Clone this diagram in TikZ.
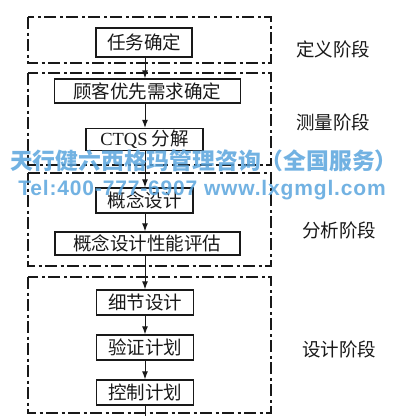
\documentclass[tikz,border=0pt]{standalone}
\usepackage{fontspec}
\setmainfont{Liberation Serif}
\newfontfamily\cjk{Noto Sans CJK SC}
\newfontfamily\wmsans[LetterSpace=4]{Liberation Sans}
\usetikzlibrary{arrows.meta}
\definecolor{wmblue}{RGB}{90,165,222}
\definecolor{ink}{RGB}{25,25,25}
\begin{document}
\begin{tikzpicture}[x=1pt,y=-1pt,
  box/.style={draw=ink, line width=1.4pt, inner sep=0pt, text=ink,
    font=\fontsize{18.5}{20}\selectfont\cjk},
  frame/.style={draw=ink, line width=1.2pt, dash pattern=on 12pt off 3.5pt on 3pt off 3.5pt},
  arr/.style={draw=ink, line width=1pt, -{Latex[length=8pt,width=6pt]}},
  lab/.style={text=ink, inner sep=0pt, font=\fontsize{18.5}{20}\selectfont\cjk},
  wm/.style={text=wmblue, opacity=0.85, inner sep=0pt},
]
\useasboundingbox[fill=white] (0,0) rectangle (400,416);

% phase frames
\draw[frame] (28,17) rectangle (271,63);
\draw[frame] (28,73) rectangle (271,165);
\draw[frame] (28,173) rectangle (271,266);
\draw[frame] (28,277) rectangle (271,413);

% boxes
\node[box, minimum width=96pt, minimum height=29pt] (n1) at (144,42.5) {任务确定};
\node[box, minimum width=186pt, minimum height=24pt] (n2) at (147.5,91) {顾客优先需求确定};
\node[box, minimum width=117pt, minimum height=22pt] (n3) at (144.5,139.5) {{\rmfamily CTQS} 分解};
\node[box, minimum width=97pt, minimum height=25pt] (n4) at (144.5,200.5) {概念设计};
\node[box, minimum width=185pt, minimum height=23pt] (n5) at (147.5,243.5) {概念设计性能评估};
\node[box, minimum width=97pt, minimum height=25pt] (n6) at (145,302.5) {细节设计};
\node[box, minimum width=97pt, minimum height=25pt] (n7) at (145,347.5) {验证计划};
\node[box, minimum width=97pt, minimum height=25pt] (n8) at (145,392.5) {控制计划};

% phase labels
\node[lab] (l1) at (333,49) {定义阶段};
\node[lab] (l2) at (333,122) {测量阶段};
\node[lab] (l3) at (339,230) {分析阶段};
\node[lab] (l4) at (339,349) {设计阶段};

% connectors
\coordinate (sp) at (145,0);
\coordinate (tail) at (145,416);
\draw[arr] (n1.south -| sp) -- (n2.north -| sp);
\draw[arr] (n2.south -| sp) -- (n3.north -| sp);
\draw[arr] (n3.south -| sp) -- (n4.north -| sp);
\draw[arr] (n4.south -| sp) -- (n5.north -| sp);
\draw[arr] (n5.south -| sp) -- (n6.north -| sp);
\draw[arr] (n6.south -| sp) -- (n7.north -| sp);
\draw[arr] (n7.south -| sp) -- (n8.north -| sp);
\draw[draw=ink, line width=1pt] (n8.south -| sp) -- (tail);

% watermark
\node[wm, font=\fontsize{22.8}{24}\selectfont\cjk\bfseries] (wm1) at (204,161) {天行健六西格玛管理咨询（全国服务）};
\node[wm, font=\fontsize{21}{24}\selectfont\wmsans\bfseries] (wm2) at (202,190) {Tel:400-777-6907 www.lxgmgl.com};
\end{tikzpicture}
\end{document}
